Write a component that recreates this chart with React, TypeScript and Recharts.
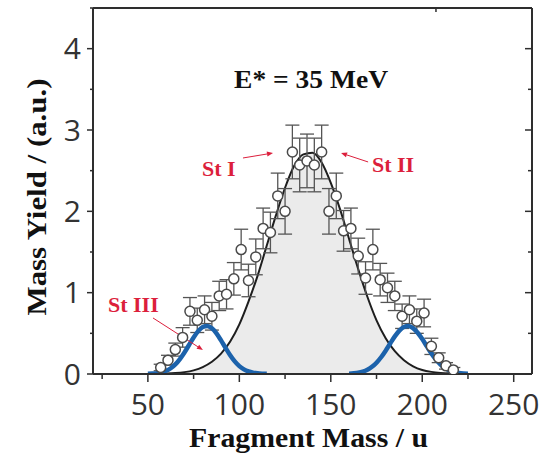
import {
  ComposedChart,
  Area,
  Line,
  Scatter,
  ErrorBar,
  XAxis,
  YAxis,
  ReferenceDot,
  ReferenceLine,
} from 'recharts';

const X_TICKS = [25, 50, 75, 100, 125, 150, 175, 200, 225, 250];
const Y_TICKS = [0, 0.5, 1, 1.5, 2, 2.5, 3, 3.5, 4, 4.5];

// measured points (open circles)
const POINT_MASS = [57, 61, 65, 69, 73, 77, 81, 85, 89, 93, 97, 101, 105, 109, 113, 117, 121, 125, 129, 133, 137, 141, 145, 149, 153, 157, 161, 165, 169, 173, 177, 181, 185, 189, 193, 197, 201, 205, 209, 213, 217];
const POINT_YIELD = [0.08, 0.17, 0.3, 0.45, 0.77, 0.66, 0.79, 0.71, 0.96, 0.98, 1.17, 1.53, 1.15, 1.44, 1.79, 1.74, 2.19, 2.0, 2.73, 2.57, 2.62, 2.57, 2.73, 2.0, 2.19, 1.76, 1.79, 1.45, 1.18, 1.53, 1.16, 1.06, 0.96, 0.71, 0.79, 0.65, 0.75, 0.34, 0.2, 0.1, 0.05];
const POINT_ERR = [0.04, 0.06, 0.08, 0.12, 0.17, 0.15, 0.17, 0.17, 0.18, 0.18, 0.2, 0.25, 0.2, 0.22, 0.25, 0.25, 0.28, 0.28, 0.33, 0.33, 0.33, 0.33, 0.33, 0.28, 0.28, 0.25, 0.25, 0.22, 0.2, 0.25, 0.2, 0.18, 0.18, 0.15, 0.17, 0.15, 0.17, 0.1, 0.06, 0.04, 0.03];

// symmetric fission component (black curve, grey fill)
const FIT_MASS = [60, 65, 70, 75, 80, 85, 90, 95, 100, 105, 110, 115, 120, 125, 130, 135, 140, 145, 150, 155, 160, 165, 170, 175, 180, 185, 190, 195, 200, 205, 210, 215, 220];
const FIT_YIELD = [0.005, 0.011, 0.023, 0.045, 0.085, 0.15, 0.25, 0.4, 0.61, 0.89, 1.21, 1.58, 1.95, 2.29, 2.56, 2.7, 2.72, 2.6, 2.35, 2.03, 1.66, 1.29, 0.95, 0.66, 0.44, 0.28, 0.17, 0.095, 0.05, 0.026, 0.013, 0.006, 0.002];

// St III components (blue curves)
const LOW_MASS = [50, 52.5, 55, 57.5, 60, 62.5, 65, 67.5, 70, 72.5, 75, 77.5, 80, 82.5, 85, 87.5, 90, 92.5, 95, 97.5, 100, 102.5, 105, 107.5, 110, 112.5, 115];
const LOW_YIELD = [0.002, 0.005, 0.01, 0.021, 0.04, 0.071, 0.118, 0.184, 0.265, 0.357, 0.449, 0.527, 0.577, 0.59, 0.561, 0.499, 0.413, 0.32, 0.231, 0.155, 0.097, 0.057, 0.031, 0.016, 0.008, 0.004, 0.002];
const HIGH_MASS = [160, 162.5, 165, 167.5, 170, 172.5, 175, 177.5, 180, 182.5, 185, 187.5, 190, 192.5, 195, 197.5, 200, 202.5, 205, 207.5, 210, 212.5, 215, 217.5, 220, 222.5, 225];
const HIGH_YIELD = [0.004, 0.008, 0.015, 0.029, 0.052, 0.088, 0.139, 0.206, 0.287, 0.376, 0.462, 0.533, 0.578, 0.59, 0.564, 0.507, 0.429, 0.34, 0.253, 0.177, 0.117, 0.072, 0.042, 0.023, 0.012, 0.006, 0.003];

// annotations, in data coordinates
const LABELS = [
  { text: 'E* = 35 MeV', m: 139.2, v: 3.52, color: '#111', size: 25, anchor: 'middle', len: 154 },
  { text: 'St I', m: 79.6, v: 2.435, color: '#dc1f3c', size: 22, anchor: 'start', len: 0 },
  { text: 'St II', m: 172.5, v: 2.484, color: '#dc1f3c', size: 22, anchor: 'start', len: 0 },
  { text: 'St III', m: 28.2, v: 0.768, color: '#dc1f3c', size: 22, anchor: 'start', len: 0 },
];
const ARROWS = [
  [{ x: 102, y: 2.656 }, { x: 118.4, y: 2.717 }],
  [{ x: 170.4, y: 2.607 }, { x: 155.6, y: 2.717 }],
  [{ x: 52.8, y: 0.689 }, { x: 80.1, y: 0.295 }],
];

const fitRows = FIT_MASS.map((m, i) => ({ m, fit: FIT_YIELD[i] }));
const points = POINT_MASS.map((m, i) => ({ m, v: POINT_YIELD[i], e: POINT_ERR[i] }));
const lowRows = LOW_MASS.map((m, i) => ({ m, b: LOW_YIELD[i] }));
const highRows = HIGH_MASS.map((m, i) => ({ m, b: HIGH_YIELD[i] }));

const AXIS = '#2e2e2e';
const BLUE = '#1c62ab';
const RED = '#dc1f3c';
const SANS = "'Open Sans', sans-serif";
const SERIF = "'Liberation Serif', 'Times New Roman', serif";

function BottomTick({ x, y, payload }: any) {
  const major = payload.value % 50 === 0;
  return (
    <g>
      <line x1={x} x2={x} y1={y} y2={y + (major ? 8 : 5)} stroke={AXIS} strokeWidth={1.5} />
      {major && (
        <text x={x} y={y + 41} textAnchor="middle" fontFamily={SANS} fontSize={30} fill="#333">
          {payload.value}
        </text>
      )}
    </g>
  );
}

function TopTick({ x, y, payload }: any) {
  const major = payload.value % 50 === 0;
  return <line x1={x} x2={x} y1={y} y2={y + (major ? 7 : 4)} stroke={AXIS} strokeWidth={1.5} />;
}

function LeftTick({ x, y, payload }: any) {
  const major = payload.value % 1 === 0;
  return (
    <g>
      <line x1={x - (major ? 6 : 3)} x2={x} y1={y} y2={y} stroke={AXIS} strokeWidth={1.5} />
      {major && payload.value <= 4 && (
        <text x={x - 12} y={y + 10.7} textAnchor="end" fontFamily={SANS} fontSize={30} fill="#333">
          {payload.value}
        </text>
      )}
    </g>
  );
}

function RightTick({ x, y, payload }: any) {
  const major = payload.value % 1 === 0;
  return <line x1={x - (major ? 7 : 4)} x2={x} y1={y} y2={y} stroke={AXIS} strokeWidth={1.5} />;
}

function YTitle({ viewBox }: any) {
  const cx = viewBox.x + 36;
  const cy = viewBox.y + viewBox.height / 2 + 6;
  return (
    <text
      x={cx}
      y={cy}
      transform={`rotate(-90, ${cx}, ${cy})`}
      textAnchor="middle"
      dominantBaseline="central"
      fontFamily={SERIF}
      fontWeight="bold"
      fontSize={28}
      textLength={237}
      lengthAdjust="spacingAndGlyphs"
      fill="#111"
    >
      Mass Yield / (a.u.)
    </text>
  );
}

function XTitle({ viewBox }: any) {
  return (
    <text
      x={viewBox.x + viewBox.width / 2 - 4}
      y={viewBox.y + 73}
      textAnchor="middle"
      fontFamily={SERIF}
      fontWeight="bold"
      fontSize={28}
      textLength={239}
      lengthAdjust="spacingAndGlyphs"
      fill="#111"
    >
      Fragment Mass / u
    </text>
  );
}

function OpenCircle({ cx, cy }: any) {
  return <circle cx={cx} cy={cy} r={5} fill="#fff" stroke="#4a4a4a" strokeWidth={1.5} />;
}

function Arrow({ x1, y1, x2, y2 }: any) {
  const a = Math.atan2(y2 - y1, x2 - x1);
  const h = 6;
  const w = 2.5;
  const bx = x2 - h * Math.cos(a);
  const by = y2 - h * Math.sin(a);
  const px = -Math.sin(a) * w;
  const py = Math.cos(a) * w;
  return (
    <g>
      <line x1={x1} y1={y1} x2={bx} y2={by} stroke={RED} strokeWidth={1} />
      <path d={`M${x2},${y2}L${bx + px},${by + py}L${bx - px},${by - py}Z`} fill={RED} />
    </g>
  );
}

function labelContent(l: (typeof LABELS)[number]) {
  return ({ viewBox }: any) => (
    <text
      x={viewBox.x}
      y={viewBox.y}
      textAnchor={l.anchor as any}
      fontFamily={SERIF}
      fontWeight="bold"
      fontSize={l.size}
      fill={l.color}
      {...(l.len ? { textLength: l.len, lengthAdjust: 'spacingAndGlyphs' } : {})}
    >
      {l.text}
    </text>
  );
}

export default function App() {
  return (
    <div style={{ background: '#fff' }}>
      <style>{'body{margin:0}'}</style>
      <ComposedChart
        width={546}
        height={458}
        data={fitRows}
        margin={{ top: 7, right: 13, bottom: 0, left: 0 }}
      >
        <XAxis
          dataKey="m"
          type="number"
          domain={[20, 260]}
          ticks={X_TICKS}
          interval={0}
          allowDataOverflow
          tickSize={0}
          tickMargin={0}
          tickLine={false}
          axisLine={{ stroke: AXIS, strokeWidth: 2 }}
          height={84}
          tick={<BottomTick />}
          label={{ content: XTitle }}
        />
        <XAxis
          xAxisId="top"
          orientation="top"
          type="number"
          domain={[20, 260]}
          ticks={X_TICKS}
          interval={0}
          allowDataOverflow
          tickSize={0}
          tickMargin={0}
          tickLine={false}
          axisLine={{ stroke: AXIS, strokeWidth: 2 }}
          height={1}
          tick={<TopTick />}
        />
        <YAxis
          type="number"
          domain={[0, 4.5]}
          ticks={Y_TICKS}
          interval={0}
          allowDataOverflow
          tickSize={0}
          tickMargin={0}
          tickLine={false}
          axisLine={{ stroke: AXIS, strokeWidth: 2 }}
          width={93}
          tick={<LeftTick />}
          label={{ content: YTitle }}
        />
        <YAxis
          yAxisId="right"
          orientation="right"
          type="number"
          domain={[0, 4.5]}
          ticks={Y_TICKS}
          interval={0}
          allowDataOverflow
          tickSize={0}
          tickMargin={0}
          tickLine={false}
          axisLine={{ stroke: AXIS, strokeWidth: 2 }}
          width={1}
          tick={<RightTick />}
        />
        <Area
          type="monotone"
          dataKey="fit"
          stroke="none"
          fill="#ebebeb"
          fillOpacity={1}
          isAnimationActive={false}
        />
        <Line
          type="monotone"
          dataKey="fit"
          stroke="#1e1e1e"
          strokeWidth={2}
          dot={false}
          isAnimationActive={false}
        />
        <Scatter data={points} dataKey="v" shape={OpenCircle} isAnimationActive={false}>
          <ErrorBar dataKey="e" direction="y" width={7} stroke="#555" strokeWidth={1.3} />
        </Scatter>
        <Line
          data={lowRows}
          type="monotone"
          dataKey="b"
          stroke={BLUE}
          strokeWidth={4.5}
          dot={false}
          isAnimationActive={false}
        />
        <Line
          data={highRows}
          type="monotone"
          dataKey="b"
          stroke={BLUE}
          strokeWidth={4.5}
          dot={false}
          isAnimationActive={false}
        />
        {ARROWS.map((seg, i) => (
          <ReferenceLine key={`a${i}`} segment={seg} shape={Arrow} />
        ))}
        {LABELS.map((l) => (
          <ReferenceDot
            key={l.text}
            x={l.m}
            y={l.v}
            r={0}
            fill="none"
            stroke="none"
            label={{ content: labelContent(l) }}
          />
        ))}
      </ComposedChart>
    </div>
  );
}
